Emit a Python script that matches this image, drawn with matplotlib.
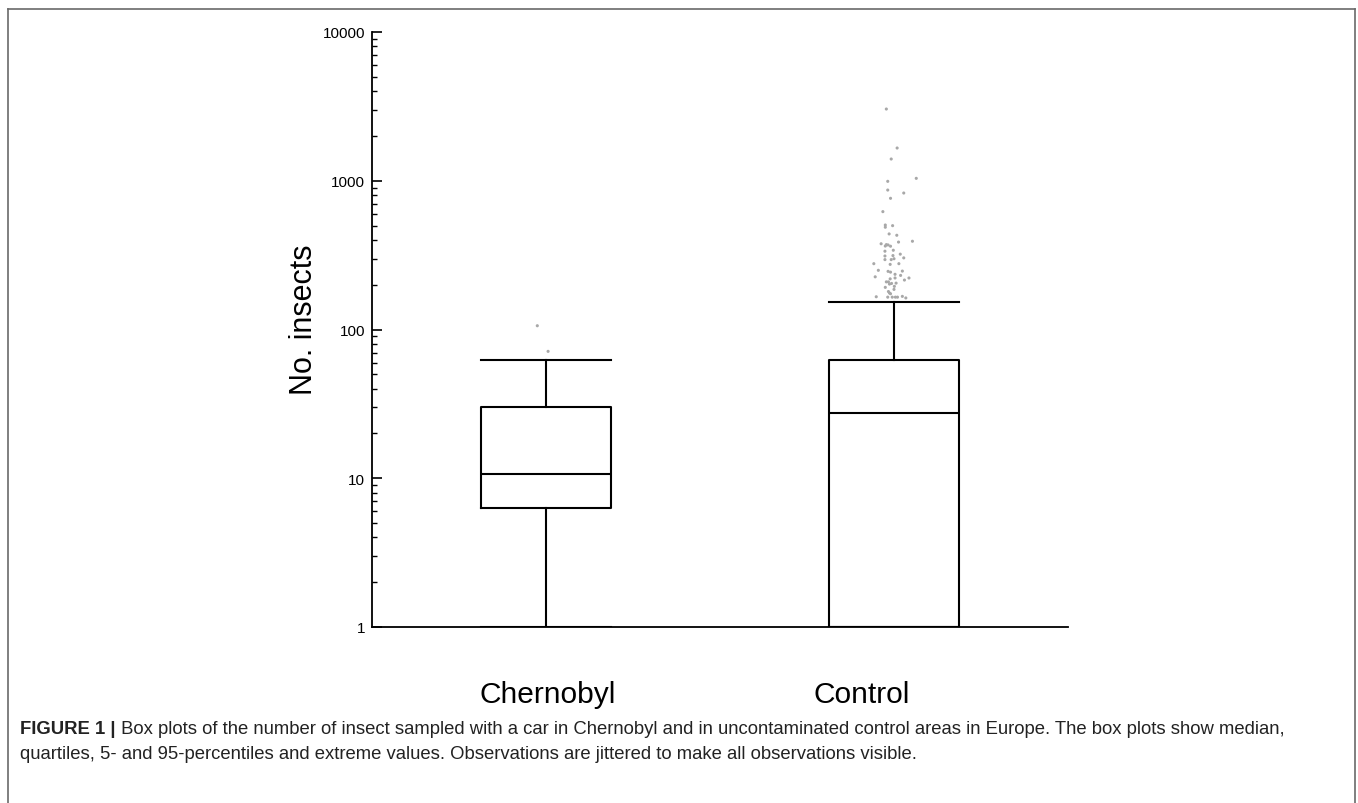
import matplotlib
matplotlib.use("Agg")
import matplotlib.pyplot as plt
from matplotlib.lines import Line2D
import matplotlib.ticker as mticker

plt.rcParams['font.family'] = ['Liberation Sans', 'DejaVu Sans']

# ---------------- data ----------------
categories = ["Chernobyl", "Control"]

# box statistics (median, quartiles, 5- and 95-percentiles)
whislo = [1.0, 1.0]
q1 = [6.3, 1.0]
med = [10.7, 27.3]
q3 = [30.0, 62.5]
whishi = [62.5, 154.0]

# extreme values (jittered observations)
cher_extremes = [106, 71.3]
cher_jitter = [-0.025, 0.006]

ctrl_extremes = [3035, 1660, 1400, 1038, 991, 866, 827, 762, 620, 504, 487, 499,
                 439, 430, 392, 387, 377, 372, 370, 363, 364, 341, 336, 321, 314,
                 312, 299, 295, 303, 295, 277, 274, 277, 250, 246, 243, 247, 235,
                 231, 226, 222, 222, 215, 219, 209, 209, 205, 204, 202, 195, 192,
                 186, 180, 176, 174, 166, 165, 165, 165, 165, 167, 163]
ctrl_jitter = [-0.022, 0.009, -0.008, 0.064, -0.018, -0.018, 0.028, -0.010, -0.032,
               -0.025, -0.025, -0.004, -0.014, 0.008, 0.053, 0.013, -0.037, -0.022,
               -0.017, -0.010, -0.025, -0.002, -0.026, 0.018, -0.003, -0.026, 0.000,
               -0.026, 0.028, -0.008, -0.058, -0.011, 0.014, -0.045, -0.017, -0.010,
               0.024, 0.003, 0.019, -0.054, 0.003, 0.043, 0.030, -0.011, -0.022,
               -0.016, 0.006, -0.007, -0.013, 0.001, -0.025, 0.000, -0.016, -0.013,
               -0.010, -0.051, -0.018, -0.005, 0.004, 0.010, 0.024, 0.034]

yticks = [1, 10, 100, 1000, 10000]
ytick_labels = ["1", "10", "100", "1000", "10000"]

caption_bold = "FIGURE 1 |"
caption_line1 = (" Box plots of the number of insect sampled with a car in Chernobyl and in "
                 "uncontaminated control areas in Europe. The box plots show median,")
caption_line2 = ("quartiles, 5- and 95-percentiles and extreme values. Observations are "
                 "jittered to make all observations visible.")

# ---------------- figure ----------------
W, H = 1358, 804
fig = plt.figure(figsize=(W / 100, H / 100), dpi=100)
ax = fig.add_axes([372 / W, 1 - 628 / H, (1068 - 372) / W, (628 - 33) / H])

positions = [1, 2]
stats = []
for i, name in enumerate(categories):
    stats.append(dict(label=name, whislo=whislo[i], q1=q1[i], med=med[i],
                      q3=q3[i], whishi=whishi[i], fliers=[]))

bw = 0.376
lw = 1.5
ax.bxp(stats, positions=positions, widths=bw, capwidths=[bw, bw],
       showfliers=False, patch_artist=False,
       boxprops=dict(color='black', linewidth=lw),
       medianprops=dict(color='black', linewidth=lw),
       whiskerprops=dict(color='black', linewidth=lw),
       capprops=dict(color='black', linewidth=lw))

ax.scatter([positions[0] + j for j in cher_jitter], cher_extremes,
           s=5, color='#a8a8a8', edgecolors='none', zorder=3)
ax.scatter([positions[1] + j for j in ctrl_jitter], ctrl_extremes,
           s=5, color='#a8a8a8', edgecolors='none', zorder=3)

ax.set_yscale('log')
ax.set_ylim(1, 10000)
ax.set_xlim(0.5, 2.5)
ax.set_yticks(yticks)
ax.set_yticklabels(ytick_labels)
ax.yaxis.set_minor_locator(mticker.LogLocator(base=10, subs=range(2, 10)))
ax.yaxis.set_minor_formatter(mticker.NullFormatter())
ax.tick_params(axis='y', which='major', direction='in', length=7, width=1.2,
               labelsize=11, pad=5)
ax.tick_params(axis='y', which='minor', direction='in', length=3.5, width=1.0)
ax.set_xticks([])
for side in ['left', 'bottom']:
    ax.spines[side].set_linewidth(1.3)
for side in ['top', 'right']:
    ax.spines[side].set_visible(False)

fig.text(304 / W, 1 - 320 / H, "No. insects", rotation=90, fontsize=22,
         ha='center', va='center')

# category labels
fig.text(548 / W, 1 - 695 / H, categories[0], fontsize=21.5, ha='center', va='center')
fig.text(862 / W, 1 - 695 / H, categories[1], fontsize=21.5, ha='center', va='center')

# caption
cap_fs = 13.3
t1 = fig.text(20 / W, 1 - 734 / H, caption_bold, fontsize=cap_fs, fontweight='bold',
              ha='left', va='baseline', color='#222222')
fig.canvas.draw()
r = fig.canvas.get_renderer()
bb = t1.get_window_extent(renderer=r)
fig.text(bb.x1 / W, 1 - 734 / H, caption_line1, fontsize=cap_fs, ha='left',
         va='baseline', color='#222222')
fig.text(20 / W, 1 - 759 / H, caption_line2, fontsize=cap_fs, ha='left',
         va='baseline', color='#222222')

# figure border (open at bottom)
bc = '#6a6a6a'
fig.add_artist(Line2D([7.5 / W, 7.5 / W], [0, 1 - 9.5 / H], color=bc, lw=1.2,
                      transform=fig.transFigure))
fig.add_artist(Line2D([7.5 / W, 1355 / W], [1 - 9.5 / H, 1 - 9.5 / H], color=bc, lw=1.2,
                      transform=fig.transFigure))
fig.add_artist(Line2D([1355 / W, 1355 / W], [0, 1 - 9.5 / H], color=bc, lw=1.2,
                      transform=fig.transFigure))

fig.savefig("out.png", dpi=100)
